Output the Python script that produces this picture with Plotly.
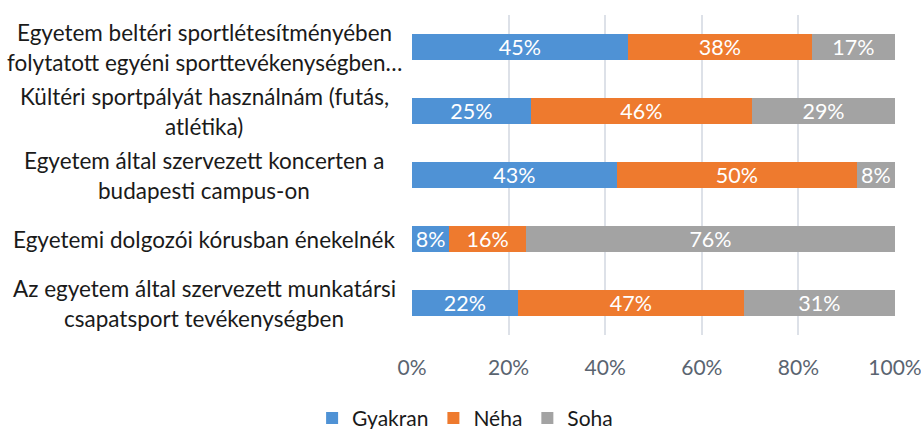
import plotly.graph_objects as go

categories = [
    ["Egyetem beltéri sportlétesítményében", "folytatott egyéni sporttevékenységben…"],
    ["Kültéri sportpályát használnám (futás,", "atlétika)"],
    ["Egyetem által szervezett koncerten a", "budapesti campus-on"],
    ["Egyetemi dolgozói kórusban énekelnék"],
    ["Az egyetem által szervezett munkatársi", "csapatsport tevékenységben"],
]
cat_ids = ["c1", "c2", "c3", "c4", "c5"]

gyakran = [44.7, 24.6, 42.4, 7.7, 21.9]
neha = [38.1, 45.8, 49.7, 15.9, 46.8]
soha = [17.2, 29.6, 7.9, 76.4, 31.3]

gyakran_lbl = ["45%", "25%", "43%", "8%", "22%"]
neha_lbl = ["38%", "46%", "50%", "16%", "47%"]
soha_lbl = ["17%", "29%", "8%", "76%", "31%"]

tick_vals = [0, 20, 40, 60, 80, 100]
tick_text = ["0%", "20%", "40%", "60%", "80%", "100%"]

FONT = "Lato"
series = [
    ("Gyakran", gyakran, gyakran_lbl, "#4f92d5"),
    ("Néha", neha, neha_lbl, "#ee7a2e"),
    ("Soha", soha, soha_lbl, "#a3a3a3"),
]

fig = go.Figure()
for name, vals, lbls, col in series:
    fig.add_trace(go.Bar(
        y=cat_ids, x=vals, name=name, orientation="h",
        marker=dict(color=col, line=dict(width=0)),
        text=lbls, textposition="inside", insidetextanchor="middle",
        constraintext="none",
        textfont=dict(family=FONT, size=21.5, color="white"),
        width=0.42,
    ))

annotations = []
for cid, lines in zip(cat_ids, categories):
    n = len(lines)
    for i, line in enumerate(lines):
        shift = (n - 1) / 2 * 30 - i * 30
        annotations.append(dict(
            x=-0.43, xref="paper", y=cid, yref="y", yshift=shift,
            text=line, showarrow=False, xanchor="center", yanchor="middle",
            font=dict(family=FONT, size=22.5, color="#1a1a1a"),
        ))

fig.update_layout(
    barmode="stack",
    width=921, height=429,
    margin=dict(l=412, r=26, t=15, b=94),
    paper_bgcolor="white", plot_bgcolor="white",
    annotations=annotations,
    xaxis=dict(
        range=[0, 100], tickvals=tick_vals, ticktext=tick_text,
        showgrid=True, gridcolor="#dde1e8", gridwidth=1.5,
        zeroline=False, showline=False, automargin=False,
        tickfont=dict(family=FONT, size=21, color="#5a6470"),
        ticks="", ticklabelstandoff=18, ticklabeloverflow="allow",
    ),
    yaxis=dict(
        categoryorder="array", categoryarray=cat_ids[::-1],
        showticklabels=False, showgrid=False, zeroline=False,
        showline=False, range=[-0.5, 4.5], automargin=False,
    ),
    legend=dict(
        orientation="h", xref="container", yref="container",
        x=0.505, xanchor="center", y=0.025, yanchor="middle",
        font=dict(family=FONT, size=21, color="#1a1a1a"),
        itemwidth=30, traceorder="normal",
    ),
    bargap=0.58,
)
fig.write_html("out.html", config={"displayModeBar": False},
               post_script="document.body.style.margin='0';")
